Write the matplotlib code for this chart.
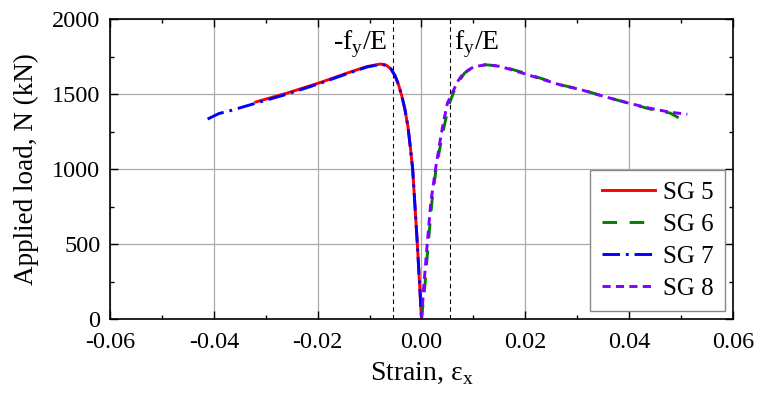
import numpy as np
import matplotlib
matplotlib.use("Agg")
import matplotlib.pyplot as plt
from matplotlib.ticker import MultipleLocator

plt.rcParams['font.family'] = ['Liberation Serif', 'DejaVu Serif']
plt.rcParams['mathtext.fontset'] = 'custom'
plt.rcParams['mathtext.rm'] = 'Liberation Serif'

# strain readings (-) and applied load (kN) per strain gauge
sg5_strain = [-0.0319, -0.0258, -0.0198, -0.0137, -0.0105, -0.0079, -0.0068, -0.0059, -0.0051,
              -0.0044, -0.0038, -0.0032, -0.0026, -0.0021, -0.0017, -0.0008, -0.0002, 0.0]
sg5_load = [1447, 1507, 1573, 1647, 1683, 1700, 1692, 1668, 1622,
            1560, 1487, 1400, 1280, 1130, 1000, 500, 127, 0]

sg7_strain = [-0.0412, -0.0390, -0.0365, -0.0325, -0.0258, -0.0198, -0.0137, -0.0105, -0.0079,
              -0.0068, -0.0059, -0.0051, -0.0044, -0.0038, -0.0032, -0.0026, -0.0021,
              -0.0017, -0.0008, -0.0002, 0.0]
sg7_load = [1333, 1370, 1392, 1433, 1500, 1568, 1643, 1680, 1698,
            1692, 1668, 1622, 1560, 1487, 1400, 1280, 1130,
            1000, 500, 127, 0]

sg6_strain = [0.0, 0.0006, 0.0013, 0.0020, 0.0028, 0.0036, 0.0044, 0.0053, 0.0062, 0.0072,
              0.0083, 0.0100, 0.0123, 0.0150, 0.0175, 0.0206, 0.0240, 0.0273, 0.0306,
              0.0350, 0.0398, 0.0440, 0.0479, 0.0496]
sg6_load = [0, 200, 500, 780, 1000, 1150, 1290, 1430, 1513, 1585,
            1640, 1680, 1695, 1687, 1664, 1632, 1593, 1557, 1532,
            1485, 1440, 1400, 1373, 1340]

sg8_strain = [0.0, 0.0004, 0.0011, 0.0018, 0.0027, 0.0034, 0.0041, 0.0050, 0.0060, 0.0070,
              0.0081, 0.0100, 0.0123, 0.0150, 0.0175, 0.0206, 0.0240, 0.0273, 0.0306,
              0.0350, 0.0398, 0.0440, 0.0480, 0.0512]
sg8_load = [0, 200, 500, 780, 1000, 1150, 1290, 1440, 1513, 1585,
            1640, 1680, 1695, 1685, 1660, 1627, 1590, 1555, 1530,
            1485, 1440, 1405, 1378, 1365]

yield_strain = 0.0055

fig = plt.figure(figsize=(7.57, 3.96), dpi=100)
ax = fig.add_axes([0.1453, 0.1944, 0.8230, 0.7576])

ax.plot(sg5_strain, sg5_load, '-', color='#ff0000', lw=2.1, label='SG 5')
ax.plot(sg6_strain, sg6_load, '--', color='#008000', lw=2.1, dashes=(5.0, 4.3), label='SG 6')
ax.plot(sg7_strain, sg7_load, '-.', color='#0000ff', lw=2.1, dashes=(6, 2, 1, 2), label='SG 7')
ax.plot(sg8_strain, sg8_load, ':', color='#8000ff', lw=2.1, dashes=(2.8, 1.8), label='SG 8')

ax.axvline(-yield_strain, color='black', lw=0.8, ls=(0, (4, 3)), zorder=1)
ax.axvline(yield_strain, color='black', lw=0.8, ls=(0, (4, 3)), zorder=1)
ax.text(-yield_strain - 0.0010, 1800, r'-f$_\mathregular{y}$/E', fontsize=20, ha='right', va='baseline')
ax.text(yield_strain + 0.0008, 1800, r'f$_\mathregular{y}$/E', fontsize=20, ha='left', va='baseline')

ax.set_xlim(-0.06, 0.06)
ax.set_ylim(0, 2000)
ax.xaxis.set_major_locator(MultipleLocator(0.02))
ax.xaxis.set_minor_locator(MultipleLocator(0.01))
ax.yaxis.set_major_locator(MultipleLocator(500))
ax.yaxis.set_minor_locator(MultipleLocator(250))
ax.set_xticklabels([f'{v:.2f}' for v in ax.get_xticks()])
ax.grid(True, which='major', color='#aaaaaa', lw=0.9)
ax.set_axisbelow(True)
ax.tick_params(which='both', direction='in', top=True, right=True, labelsize=17.5, width=1.0)
ax.tick_params(which='major', length=6)
ax.tick_params(which='minor', length=3)
ax.tick_params(axis='x', pad=9)
ax.tick_params(axis='y', pad=7)
for s in ax.spines.values():
    s.set_linewidth(1.2)

ax.set_xlabel(r'Strain, ε$_\mathregular{x}$', fontsize=20, labelpad=6)
ax.set_ylabel('Applied load, N (kN)', fontsize=19.5, labelpad=9)

leg = ax.legend(loc='lower right', fontsize=18, fancybox=False, edgecolor='#888888',
                framealpha=1, handlelength=2.15, handletextpad=0.3, borderpad=0.45,
                borderaxespad=0.33, labelspacing=0.38)
leg.get_frame().set_linewidth(1.0)

fig.savefig('out.png', dpi=100)
